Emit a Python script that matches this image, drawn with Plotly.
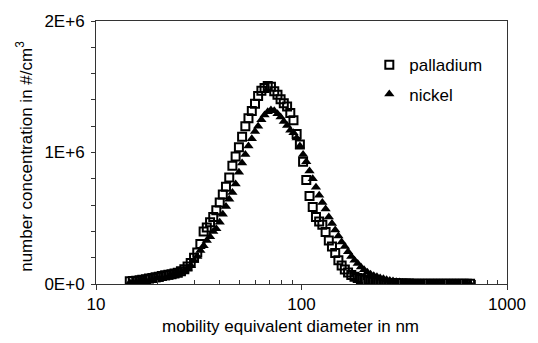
import plotly.graph_objects as go

diameter_nm = [14.6, 15.1, 15.7, 16.3, 16.8, 17.5, 18.1, 18.8, 19.5, 20.2, 20.9, 21.7, 22.5, 23.3,
               24.1, 25.0, 25.9, 26.9, 27.9, 28.9, 30.0, 31.1, 32.2, 33.4, 34.6, 35.9, 37.2, 38.5,
               40.0, 41.4, 42.9, 44.5, 46.1, 47.8, 49.6, 51.4, 53.3, 55.2, 57.3, 59.4, 61.5, 63.8,
               66.1, 68.5, 71.0, 73.7, 76.4, 79.1, 82.0, 85.1, 88.2, 91.4, 94.7, 98.2, 101.8, 105.5,
               109.4, 113.4, 117.6, 121.9, 126.3, 131.0, 135.8, 140.7, 145.9, 151.2, 156.8, 162.5,
               168.5, 174.7, 181.1, 187.7, 194.6, 201.7, 209.1, 216.7, 224.7, 232.9, 241.4, 250.3,
               259.5, 269.0, 278.8, 289.0, 299.6, 310.6, 322.0, 333.8, 346.0, 358.7, 371.8, 385.4,
               399.5, 414.2, 429.4, 445.1, 461.4, 478.3, 495.8, 514.0, 532.8, 552.3, 572.5, 593.5,
               615.3, 637.8, 661.2]

# number concentration in units of 1E6 #/cm3
palladium = [0.020, 0.022, 0.025, 0.028, 0.032, 0.036, 0.041, 0.046, 0.051, 0.056, 0.061, 0.066, 0.070, 0.074,
             0.079, 0.086, 0.097, 0.112, 0.133, 0.160, 0.200, 0.240, 0.305, 0.400, 0.430, 0.470, 0.510, 0.560,
             0.620, 0.680, 0.740, 0.810, 0.900, 0.970, 1.040, 1.120, 1.200, 1.260, 1.315, 1.370, 1.430, 1.470,
             1.490, 1.505, 1.500, 1.465, 1.440, 1.405, 1.375, 1.350, 1.300, 1.245, 1.140, 1.060, 0.930, 0.790,
             0.670, 0.585, 0.510, 0.475, 0.450, 0.395, 0.330, 0.285, 0.235, 0.180, 0.140, 0.110,
             0.088, 0.068, 0.055, 0.046, 0.038, 0.032, 0.026, 0.021, 0.017, 0.014, 0.012, 0.010,
             0.008, 0.007, 0.006, 0.005, 0.004, 0.004, 0.003, 0.003, 0.002, 0.002, 0.002, 0.002,
             0.002, 0.002, 0.002, 0.002, 0.002, 0.002, 0.002, 0.002, 0.002, 0.002, 0.002, 0.002,
             0.002, 0.002, 0.002]

nickel = [0.010, 0.011, 0.013, 0.015, 0.017, 0.020, 0.023, 0.027, 0.031, 0.035, 0.040, 0.045, 0.051, 0.058,
          0.066, 0.076, 0.087, 0.101, 0.119, 0.140, 0.178, 0.210, 0.255, 0.290, 0.331, 0.360, 0.400, 0.420,
          0.470, 0.530, 0.590, 0.645, 0.695, 0.760, 0.850, 0.920, 0.985, 1.050, 1.105, 1.160, 1.200, 1.250,
          1.285, 1.310, 1.323, 1.318, 1.295, 1.270, 1.235, 1.205, 1.170, 1.150, 1.110, 1.050, 0.985, 0.930,
          0.860, 0.800, 0.735, 0.675, 0.620, 0.570, 0.510, 0.460, 0.410, 0.365, 0.320, 0.285,
          0.245, 0.210, 0.180, 0.155, 0.130, 0.108, 0.090, 0.075, 0.063, 0.055, 0.046, 0.039,
          0.032, 0.027, 0.022, 0.018, 0.015, 0.012, 0.010, 0.008, 0.007, 0.006, 0.005, 0.004,
          0.004, 0.003, 0.003, 0.003, 0.002, 0.002, 0.002, 0.002, 0.002, 0.002, 0.002, 0.002,
          0.002, 0.002, 0.002]

y_tickvals = [0, 1e6, 2e6]
y_ticktext = ["0E+0", "1E+6", "2E+6"]
x_tickvals = [10, 100, 1000]
x_ticktext = ["10", "100", "1000"]
x_minor = [20, 30, 40, 50, 60, 70, 80, 90, 200, 300, 400, 500, 600, 700, 800, 900]

FONT = "Liberation Sans, Arial, sans-serif"
FS = 17

fig = go.Figure()
fig.add_trace(go.Scatter(
    x=diameter_nm, y=[v * 1e6 for v in palladium], mode="markers", name="palladium",
    legendgroup="pd",
    marker=dict(symbol="square-open", size=8, color="black", line=dict(width=2, color="black"))))
fig.add_trace(go.Scatter(
    x=diameter_nm, y=[v * 1e6 for v in nickel], mode="markers", name="nickel",
    legendgroup="ni",
    marker=dict(symbol="triangle-up", size=9, color="black", line=dict(width=0))))

fig.update_layout(
    width=538, height=343,
    margin=dict(l=96, r=19, t=18, b=59),
    paper_bgcolor="white", plot_bgcolor="white",
    font=dict(family=FONT, size=FS, color="black"),
    showlegend=True,
    legend=dict(x=0.665, y=0.90, xanchor="left", yanchor="top", bgcolor="rgba(0,0,0,0)",
                font=dict(size=FS), tracegroupgap=4, itemwidth=30),
    xaxis=dict(type="log", range=[1, 3], tickvals=x_tickvals, ticktext=x_ticktext,
               ticks="outside", ticklen=5, tickcolor="#333", showgrid=False, zeroline=False,
               showline=True, linecolor="#333", linewidth=1, mirror=True,
               tickfont=dict(size=FS),
               minor=dict(tickvals=x_minor, ticks="inside", ticklen=4, tickcolor="#333", showgrid=False)),
    yaxis=dict(range=[0, 2e6], tickvals=y_tickvals, ticktext=y_ticktext,
               ticks="outside", ticklen=4, tickcolor="#333", showgrid=False, zeroline=False,
               showline=True, linecolor="#333", linewidth=1, mirror=True,
               tickfont=dict(size=FS), ticklabelstandoff=3,
               minor=dict(dtick=2e5, ticks="outside", ticklen=4, tickcolor="#333", showgrid=False)),
    annotations=[
        dict(text="mobility equivalent diameter in nm", xref="paper", yref="paper",
             x=(296 - 96) / 423, y=-(327 - 284) / 266.5, xanchor="center", yanchor="middle",
             showarrow=False, font=dict(size=FS)),
        dict(text="number concentration in #/cm<sup>3</sup>", xref="paper", yref="paper",
             x=-(96 - 22) / 423, y=(284 - 155) / 266.5, xanchor="center", yanchor="middle",
             textangle=-90, showarrow=False, font=dict(size=FS)),
    ],
)

fig.write_html("out.html")
